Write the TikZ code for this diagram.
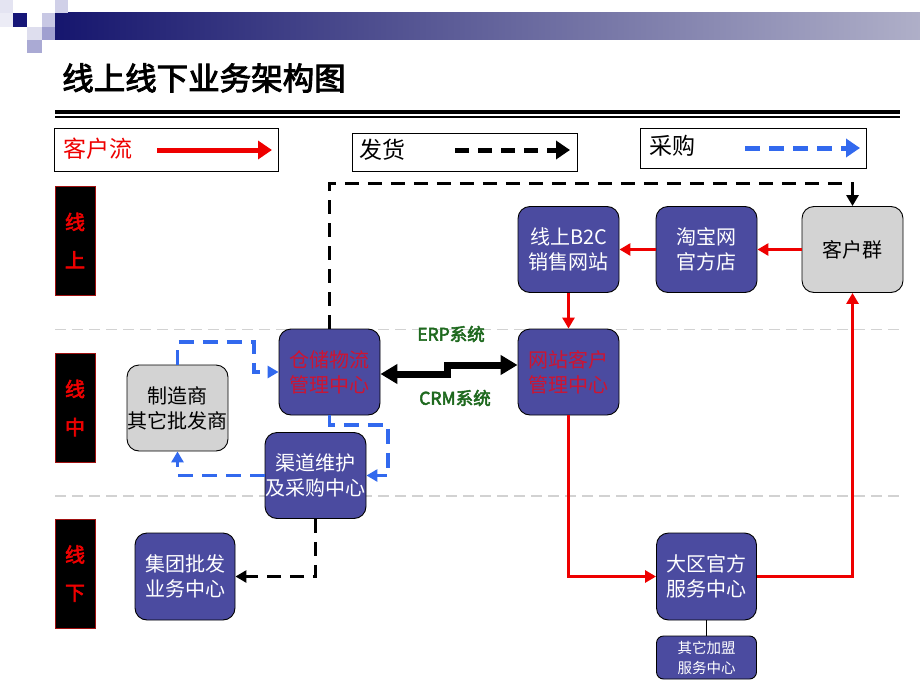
\documentclass[tikz,border=0pt]{standalone}
\usepackage{fontspec}
\usetikzlibrary{arrows.meta}
\newfontfamily\cjk{Noto Sans CJK SC}
\newfontfamily\cjkb[FakeBold=3]{Noto Sans CJK SC}
\newfontfamily\cjkm[FakeBold=1.5]{Noto Sans CJK SC}
\definecolor{boxblue}{RGB}{75,75,160}
\definecolor{boxgrey}{RGB}{211,211,211}
\definecolor{flowred}{RGB}{238,0,0}
\definecolor{textred}{RGB}{205,20,50}
\definecolor{buyblue}{RGB}{50,105,238}
\definecolor{erpgreen}{RGB}{30,105,30}
\definecolor{sepgrey}{RGB}{210,210,210}
\definecolor{labelborder}{RGB}{160,16,16}
\definecolor{barleft}{RGB}{22,22,110}
\definecolor{barright}{RGB}{175,175,200}
\definecolor{sqa}{RGB}{228,228,242}
\definecolor{sqb}{RGB}{236,236,246}
\definecolor{sqc}{RGB}{22,22,120}
\definecolor{sqd}{RGB}{200,200,228}
\definecolor{sqe}{RGB}{208,208,232}
\definecolor{sqf}{RGB}{160,160,208}
\definecolor{sqg}{RGB}{222,222,238}
\definecolor{sqh}{RGB}{170,170,212}
\tikzset{
  nodebox/.style={draw=black, line width=0.9pt, rounded corners=12pt, fill=boxblue,
    minimum width=101pt, minimum height=86pt, align=center, inner sep=0pt,
    text=white, font=\cjk\fontsize{20}{25}\selectfont},
  greybox/.style={nodebox, fill=boxgrey, text=black},
  redtext/.style={text=textred},
  sidelabel/.style={draw=labelborder, line width=1pt, fill=black, text=flowred,
    minimum width=40pt, minimum height=109pt, align=center, inner sep=0pt,
    font=\cjkb\fontsize{20}{38}\selectfont},
  legendbox/.style={draw=black, line width=1pt, fill=white},
  legendtext/.style={anchor=west, inner sep=0pt, font=\cjk\fontsize{23}{26}\selectfont},
  redflow/.style={draw=flowred, line width=3pt, -{Triangle[length=11pt,width=12pt]}},
  shipflow/.style={draw=black, line width=3pt, dash pattern=on 14pt off 9pt, -{Triangle[length=11pt,width=12pt]}},
  buyflow/.style={draw=buyblue, line width=3.5pt, dash pattern=on 15pt off 9pt, -{Triangle[length=11pt,width=12pt]}},
  legendarrow/.style={line width=5pt, -{Triangle[length=14pt,width=18pt]}},
  sepline/.style={draw=sepgrey, line width=1.5pt, dash pattern=on 11pt off 6pt},
  syslabel/.style={text=erpgreen, inner sep=0pt, font=\cjkb\fontsize{17.5}{20}\selectfont},
}
\begin{document}
\begin{tikzpicture}[x=1pt,y=-1pt]
\useasboundingbox (0,0) rectangle (920,690);
\fill[white] (0,0) rectangle (920,690);
% header decoration
\shade[left color=barleft, right color=barright] (55,13) rectangle (920,40);
\fill[sqa] (0,0) rectangle (13,13);
\fill[sqb] (0,13) rectangle (13,27);
\fill[sqc] (13,13) rectangle (27,27);
\fill[sqd] (42,13) rectangle (55,27);
\fill[sqe] (55,0) rectangle (68,13);
\fill[sqf] (42,27) rectangle (55,40);
\fill[sqg] (27,27) rectangle (42,40);
\fill[sqh] (27,40) rectangle (42,53);
% title
\node[anchor=west, inner sep=0pt, font=\cjkb\fontsize{31.5}{34}\selectfont] (title) at (62,78) {线上线下业务架构图};
\fill (55,110) rectangle (900,114.5);
\fill (55,116.5) rectangle (900,117.6);
% legend
\node[legendbox, minimum width=224pt, minimum height=43pt, inner sep=0pt] (lg1) at (166,149.5) {};
\node[legendtext, text=flowred] (lg1t) at (63,149) {客户流};
\coordinate (lg1a) at (157,150);
\coordinate (lg1b) at (272,150);
\draw[redflow, legendarrow] (lg1a) -- (lg1b);
\node[legendbox, minimum width=225pt, minimum height=38pt, inner sep=0pt] (lg2) at (464.5,152) {};
\node[legendtext] (lg2t) at (359,150) {发货};
\coordinate (lg2a) at (455,150);
\coordinate (lg2b) at (570,150);
\draw[shipflow, legendarrow] (lg2a) -- (lg2b);
\node[legendbox, minimum width=226pt, minimum height=40pt, inner sep=0pt] (lg3) at (753,148) {};
\node[legendtext] (lg3t) at (649,146) {采购};
\coordinate (lg3a) at (745,148);
\coordinate (lg3b) at (860,148);
\draw[buyflow, legendarrow] (lg3a) -- (lg3b);
% separators
\coordinate (s1a) at (55,329.5);
\coordinate (s1b) at (905,329.5);
\coordinate (s2a) at (55,496);
\coordinate (s2b) at (905,496);
\draw[sepline] (s1a) -- (s1b);
\draw[sepline] (s2a) -- (s2b);
% side labels
\node[sidelabel] (sl1) at (75,240.5) {线\\上};
\node[sidelabel] (sl2) at (75,408) {线\\中};
\node[sidelabel] (sl3) at (75,573.5) {线\\下};
% nodes
\node[nodebox] (b2c) at (568.5,249.5) {线上B2C\\销售网站};
\node[nodebox] (tb) at (706.5,249.5) {淘宝网\\官方店};
\node[greybox] (kh) at (852.5,249.5) {客户群};
\node[nodebox, redtext] (cc) at (329.5,372) {仓储物流\\管理中心};
\node[nodebox, redtext] (wz) at (568.5,372) {网站客户\\管理中心};
\node[greybox] (zz) at (177.5,408) {制造商\\其它批发商};
\node[nodebox] (qd) at (315.5,475.5) {渠道维护\\及采购中心};
\node[nodebox, minimum width=100pt, minimum height=87pt] (jt) at (185,576.5) {集团批发\\业务中心};
\node[nodebox, minimum width=100pt, minimum height=87pt] (dq) at (706.5,576.5) {大区官方\\服务中心};
\node[nodebox, minimum width=100pt, minimum height=43pt, rounded corners=7pt, font=\cjk\fontsize{14.5}{20}\selectfont] (jm) at (706.5,657.5) {其它加盟\\服务中心};
% connectors
\draw[black, line width=0.8pt] (dq.south) -- (jm.north);
\draw[redflow] (kh.west) -- (tb.east);
\draw[redflow] (tb.west) -- (b2c.east);
\draw[redflow] (b2c.south) -- (wz.north);
\draw[redflow] (wz.south) |- (dq.west);
\draw[redflow] (dq.east) -| (kh.south);
\coordinate (tp) at (329.5,183);
\draw[shipflow] (cc.north) -- (cc.north |- tp) -| (kh.north);
\draw[shipflow] (qd.south) |- (jt.east);
\coordinate (bp1) at (254,342);
\draw[buyflow] (zz.north) |- (bp1) |- (cc.west);
\coordinate (bp2) at (388,425);
\draw[buyflow] (cc.south) |- (bp2) |- (qd.east);
\draw[buyflow] (qd.west) -| (zz.south);
% ERP / CRM double arrow
\coordinate (st1) at (447,374);
\coordinate (st2) at (447,365);
\draw[black, line width=7pt, {Triangle[length=17pt,width=19pt]}-{Triangle[length=17pt,width=19pt]}] (cc.east |- st1) -- (st1) -- (st2) -- (wz.west |- st2);
\node[syslabel] (erp) at (451,334) {ERP系统};
\node[syslabel] (crm) at (455,398) {CRM系统};
\end{tikzpicture}
\end{document}
